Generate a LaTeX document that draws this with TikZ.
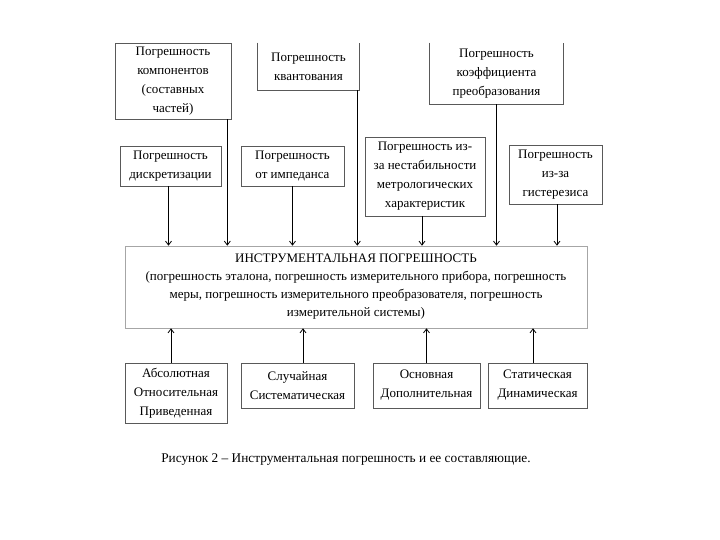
\documentclass[tikz,border=0pt]{standalone}
\usepackage{fontspec}
\setmainfont{Liberation Serif}
\usetikzlibrary{arrows.meta}

\tikzset{
	box/.style = {draw = black!65, line width = 0.6pt, align = center, inner sep = 1pt,
		font = \fontsize{13}{19}\selectfont},
	openbox/.style = {box, draw = none},
	arr/.style = {-{Straight Barb[length = 4pt, width = 6pt]}, line width = 0.8pt}
}

\begin{document}
\begin{tikzpicture}[x = 1pt, y = -1pt]
		\useasboundingbox (0,0) rectangle (720,540);
		
		% upper row
		\node [box, minimum width = 116pt, minimum height = 76pt] (komp) at (173,81)
			{Погрешность\\компонентов\\(составных\\частей)};
		\node [openbox, minimum width = 101pt, minimum height = 47pt] (kvant) at (308.5,66.5)
			{Погрешность\\квантования};
		\node [openbox, minimum width = 133pt, minimum height = 61pt] (koef) at (496.5,73.5)
			{Погрешность\\коэффициента\\преобразования};
		
		\begin{scope}[draw = black!65, line width = 0.6pt]
			\draw (kvant.north west) -- (kvant.south west) -- (kvant.south east) -- (kvant.north east);
			\draw (koef.north west) -- (koef.south west) -- (koef.south east) -- (koef.north east);
		\end{scope}
		
		% middle row
		\node [box, minimum width = 101pt, minimum height = 40pt] (diskr) at (170.5,166)
			{Погрешность\\дискретизации};
		\node [box, minimum width = 103pt, minimum height = 40pt] (imped) at (292.5,166)
			{Погрешность\\от импеданса};
		\node [box, minimum width = 120pt, minimum height = 79pt] (nestab) at (425,176.5)
			{Погрешность из-\\за нестабильности\\метрологических\\характеристик};
		\node [box, minimum width = 93pt, minimum height = 59pt] (gister) at (555.5,174.5)
			{Погрешность\\из-за\\гистерезиса};
		
		% main box
		\node [box, draw = black!35, minimum width = 462pt, minimum height = 82pt,
			font = \fontsize{13}{18}\selectfont] (instr) at (356,287)
			{ИНСТРУМЕНТАЛЬНАЯ ПОГРЕШНОСТЬ\\
			(погрешность эталона, погрешность измерительного прибора, погрешность\\
			меры, погрешность измерительного преобразователя, погрешность\\
			измерительной системы)};
		
		% lower row
		\node [box, minimum width = 102pt, minimum height = 60pt] (abs) at (176,393)
			{Абсолютная\\Относительная\\Приведенная};
		\node [box, minimum width = 113pt, minimum height = 45pt] (sluch) at (297.5,385.5)
			{Случайная\\Систематическая};
		\node [box, minimum width = 107pt, minimum height = 45pt] (osn) at (426.5,385.5)
			{Основная\\Дополнительная};
		\node [box, minimum width = 99pt, minimum height = 45pt] (stat) at (537.5,385.5)
			{Статическая\\Динамическая};
		
		% arrows down
		\draw [arr] ([xshift = -2pt]diskr.south) -- ([xshift = -2pt]diskr.south |- instr.north);
		\draw [arr] ([xshift = -4pt]komp.south east) -- ([xshift = -4pt]komp.south east |- instr.north);
		\draw [arr] (imped.south) -- (imped.south |- instr.north);
		\draw [arr] ([xshift = -2pt]kvant.south east) -- ([xshift = -2pt]kvant.south east |- instr.north);
		\draw [arr] ([xshift = -3pt]nestab.south) -- ([xshift = -3pt]nestab.south |- instr.north);
		\draw [arr] (koef.south) -- (koef.south |- instr.north);
		\draw [arr] ([xshift = 1.5pt]gister.south) -- ([xshift = 1.5pt]gister.south |- instr.north);
		
		% arrows up
		\draw [arr] ([xshift = -5pt]abs.north) -- ([xshift = -5pt]abs.north |- instr.south);
		\draw [arr] ([xshift = 5.5pt]sluch.north) -- ([xshift = 5.5pt]sluch.north |- instr.south);
		\draw [arr] (osn.north) -- (osn.north |- instr.south);
		\draw [arr] ([xshift = -4.5pt]stat.north) -- ([xshift = -4.5pt]stat.north |- instr.south);
		
		\node [font = \fontsize{13.3}{15}\selectfont] (caption) at (346,460)
			{Рисунок 2 -- Инструментальная погрешность и ее составляющие.};
	\end{tikzpicture}
\end{document}
